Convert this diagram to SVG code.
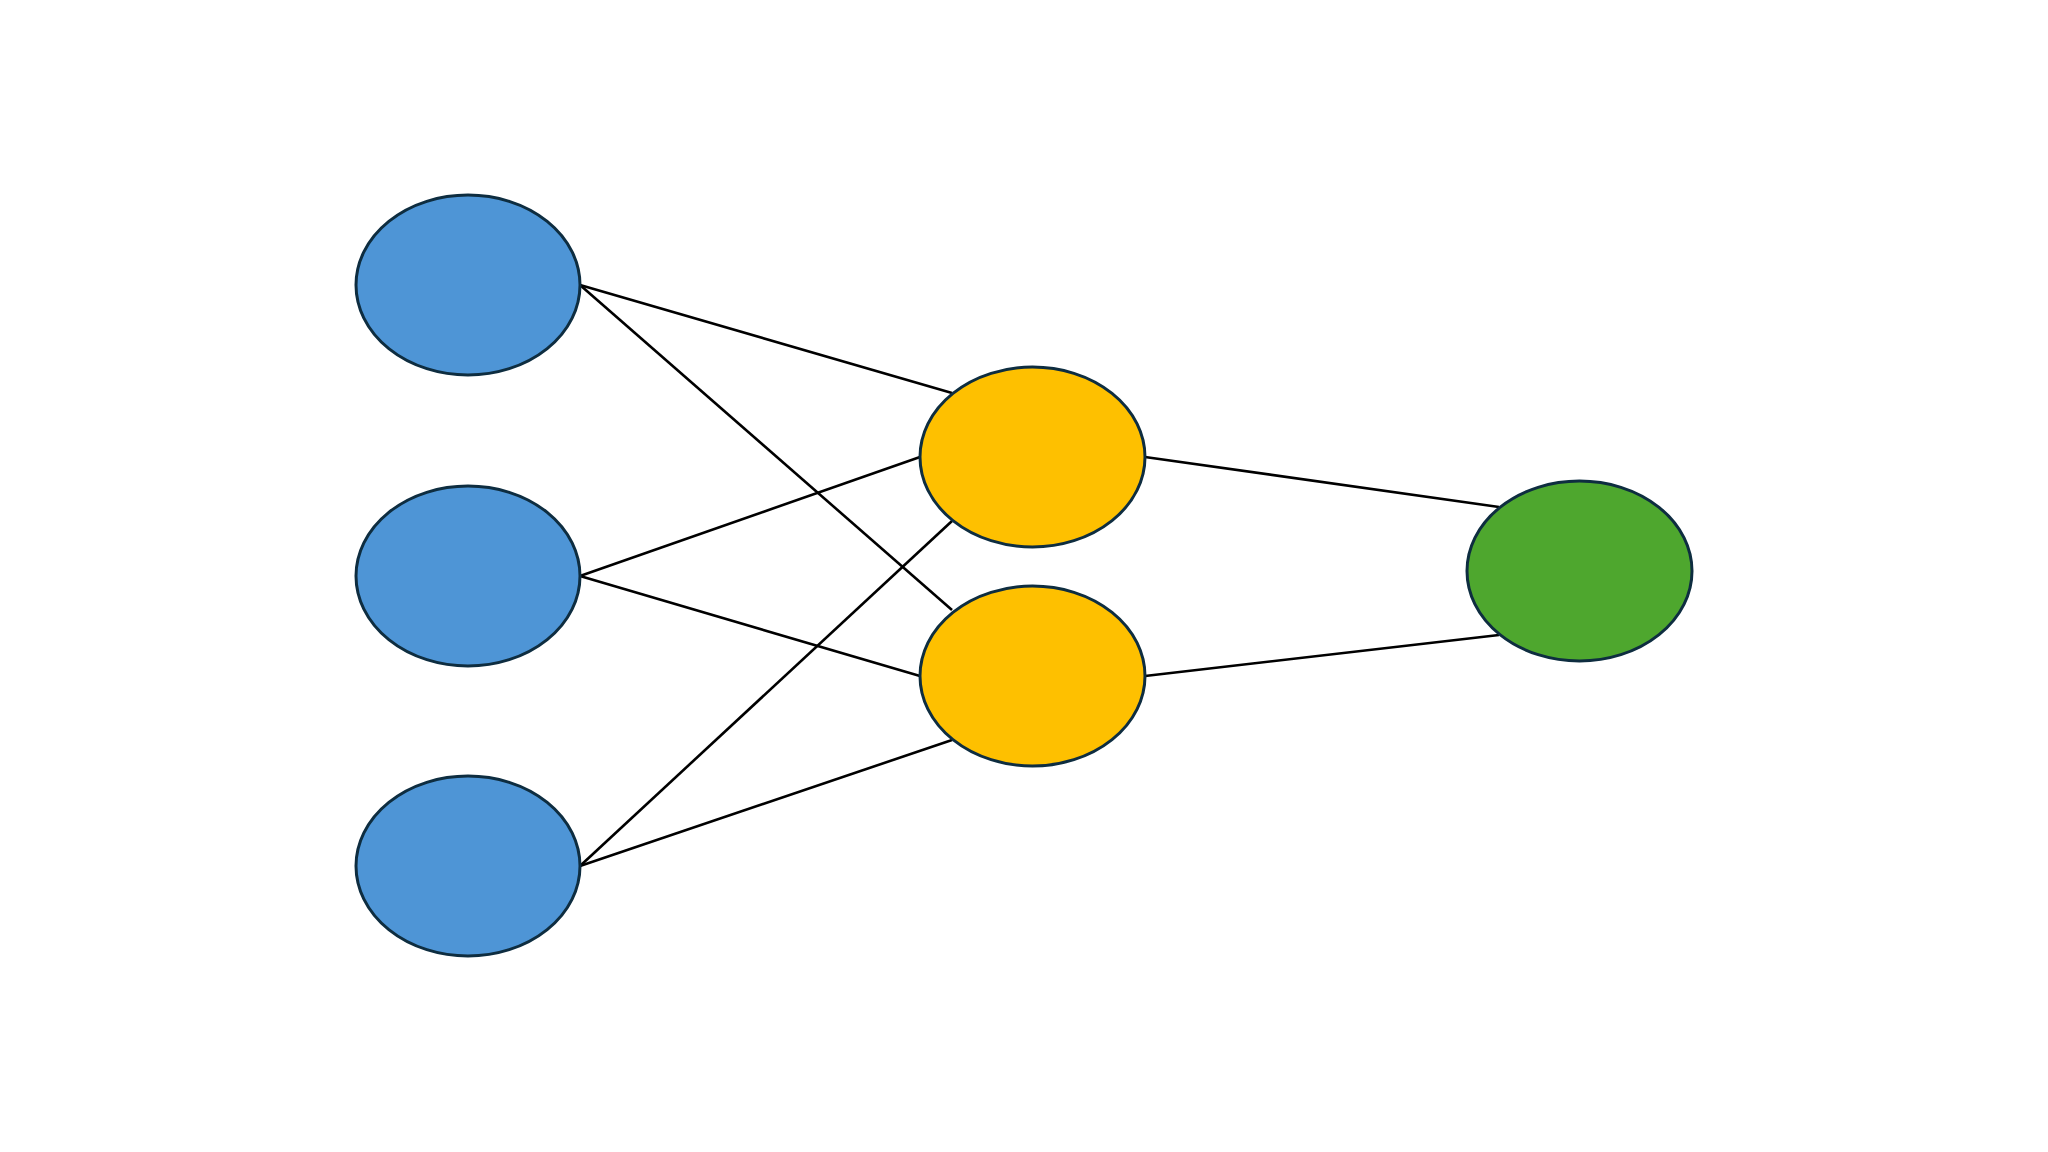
<svg xmlns="http://www.w3.org/2000/svg" width="2048" height="1152" viewBox="0 0 2048 1152">
<style>
.node{stroke:#0e2d40;stroke-width:3}
.in{fill:#4e95d6}
.hid{fill:#fec000}
.out{fill:#4ea72e}
.edge{stroke:#000;stroke-width:2.6;fill:none}
</style>
<rect width="2048" height="1152" fill="#fff"/>
<g id="connectors">
<line class="edge" x1="580" y1="285" x2="952" y2="393"/>
<line class="edge" x1="580" y1="285" x2="952" y2="610"/>
<line class="edge" x1="580" y1="576" x2="920" y2="457"/>
<line class="edge" x1="580" y1="576" x2="920" y2="676"/>
<line class="edge" x1="580" y1="866" x2="952" y2="521"/>
<line class="edge" x1="580" y1="866" x2="952" y2="740"/>
<line class="edge" x1="1145" y1="457" x2="1499" y2="507"/>
<line class="edge" x1="1145" y1="676" x2="1499" y2="635"/>
</g>
<g id="input1"><ellipse class="node in" cx="468" cy="285" rx="112" ry="90"/></g>
<g id="input2"><ellipse class="node in" cx="468" cy="576" rx="112" ry="90"/></g>
<g id="input3"><ellipse class="node in" cx="468" cy="866" rx="112" ry="90"/></g>
<g id="hidden1"><ellipse class="node hid" cx="1032.5" cy="457" rx="112.5" ry="90"/></g>
<g id="hidden2"><ellipse class="node hid" cx="1032.5" cy="676" rx="112.5" ry="90"/></g>
<g id="output"><ellipse class="node out" cx="1579.5" cy="571" rx="112.5" ry="90"/></g>
</svg>
